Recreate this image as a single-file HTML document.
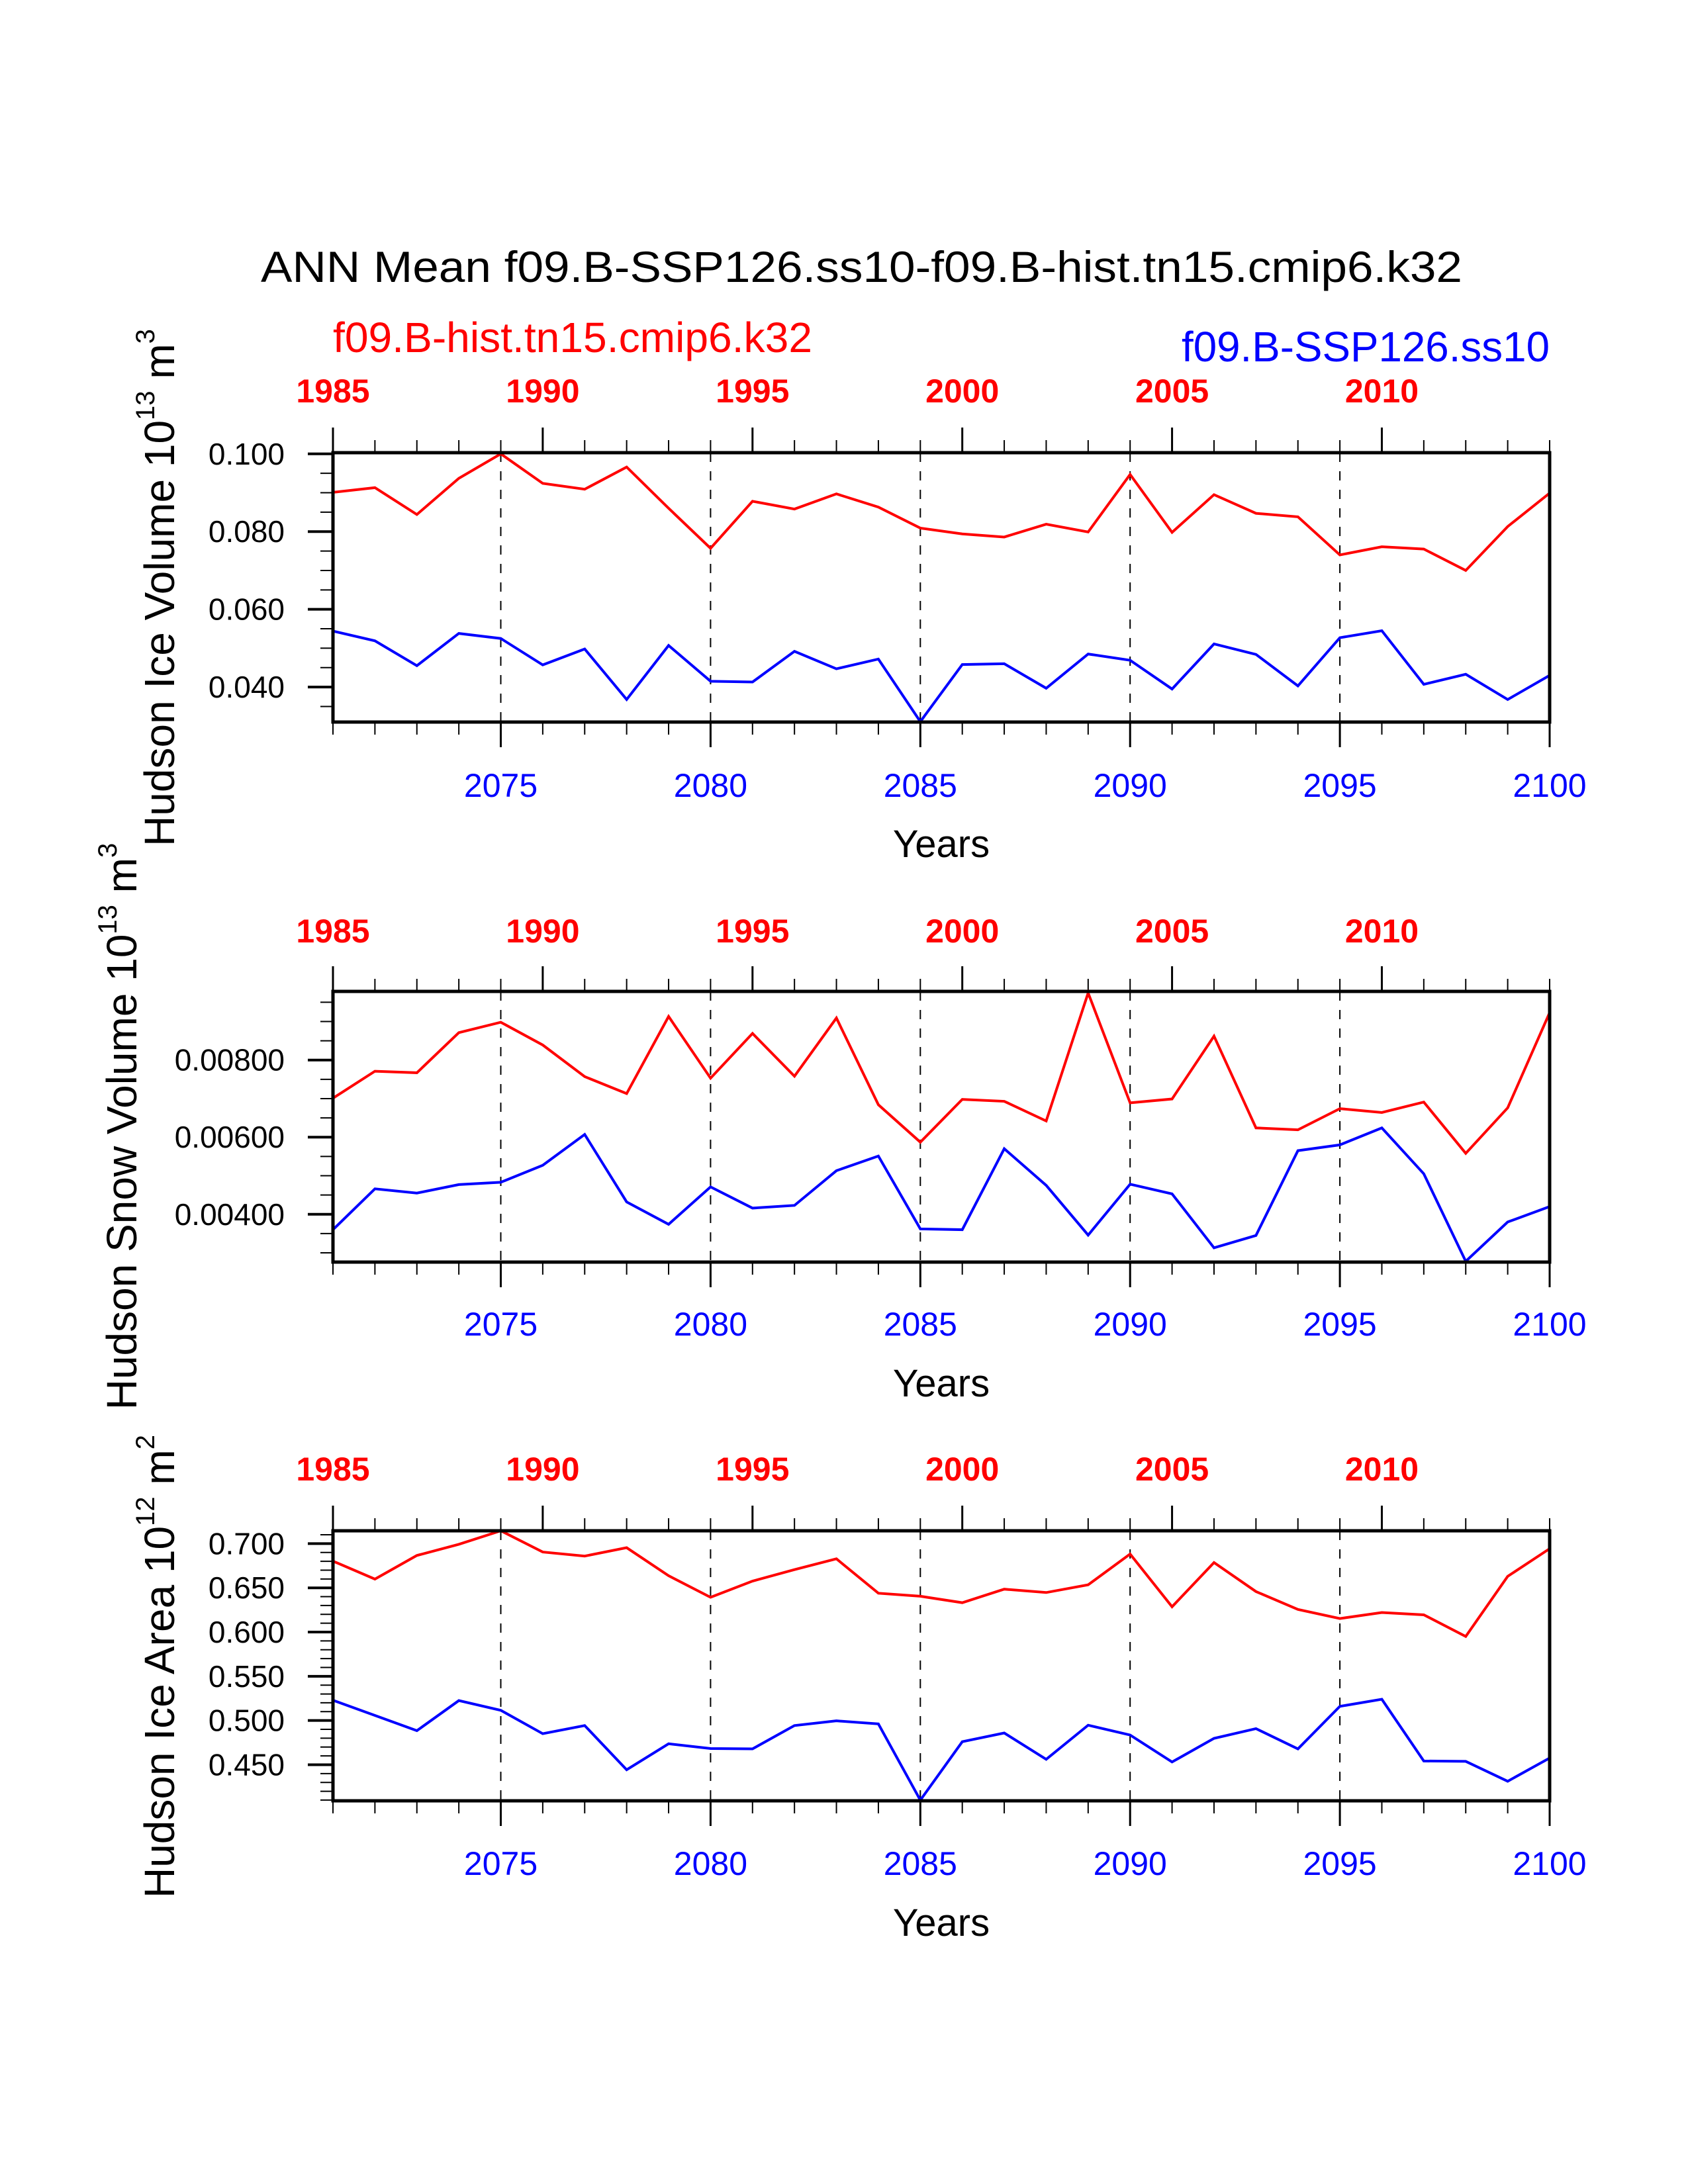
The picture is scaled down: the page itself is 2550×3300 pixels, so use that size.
<!DOCTYPE html>
<html><head><meta charset="utf-8"><style>
html,body{margin:0;padding:0;background:#fff}
svg{display:block;font-family:"Liberation Sans",Arial,sans-serif}
</style></head><body>
<svg id="chart" width="2550" height="3300" viewBox="0 0 2550 3300" xmlns="http://www.w3.org/2000/svg">
<rect width="2550" height="3300" fill="#fff"/>
<text x="394" y="426" font-size="66" textLength="1815" lengthAdjust="spacingAndGlyphs">ANN Mean f09.B-SSP126.ss10-f09.B-hist.tn15.cmip6.k32</text>
<text x="503" y="532" font-size="64" fill="#ff0000" textLength="724" lengthAdjust="spacingAndGlyphs">f09.B-hist.tn15.cmip6.k32</text>
<text x="1785" y="546" font-size="64" fill="#0000ff" textLength="556" lengthAdjust="spacingAndGlyphs">f09.B-SSP126.ss10</text>
</svg>
<script>
const years = [2071,2072,2073,2074,2075,2076,2077,2078,2079,2080,2081,2082,2083,2084,2085,2086,2087,2088,2089,2090,2091,2092,2093,2094,2095,2096,2097,2098,2099,2100];
const bottomTicks = [2075,2080,2085,2090,2095,2100];
const topTickLabels = ["1985","1990","1995","2000","2005","2010"];
const iceVolHist = [0.0901,0.0913,0.0844,0.0937,0.1000,0.0924,0.0909,0.0966,0.0860,0.0757,0.0878,0.0858,0.0897,0.0863,0.0809,0.0794,0.0786,0.0819,0.0799,0.0947,0.0798,0.0895,0.0847,0.0838,0.0740,0.0761,0.0755,0.0700,0.0813,0.0899];
const iceVolSsp = [0.0544,0.0519,0.0455,0.0538,0.0525,0.0457,0.0498,0.0368,0.0507,0.0415,0.0413,0.0492,0.0447,0.0472,0.0311,0.0458,0.0460,0.0397,0.0485,0.0469,0.0395,0.0511,0.0484,0.0403,0.0527,0.0545,0.0407,0.0433,0.0368,0.0430];
const snowVolHist = [0.00701,0.00771,0.00767,0.00871,0.00898,0.00839,0.00757,0.00713,0.00913,0.00753,0.00869,0.00758,0.00909,0.00684,0.00587,0.00698,0.00693,0.00642,0.00974,0.00689,0.00699,0.00862,0.00624,0.00619,0.00674,0.00664,0.00691,0.00558,0.00676,0.00923];
const snowVolSsp = [0.00360,0.00466,0.00455,0.00477,0.00483,0.00527,0.00607,0.00432,0.00374,0.00471,0.00416,0.00423,0.00513,0.00551,0.00362,0.00360,0.00570,0.00475,0.00346,0.00478,0.00453,0.00313,0.00345,0.00565,0.00580,0.00624,0.00505,0.00278,0.00380,0.00420];
const iceAreaHist = [0.6802,0.6599,0.6866,0.6992,0.7145,0.6905,0.6859,0.6954,0.6637,0.6393,0.6576,0.6706,0.6828,0.6439,0.6405,0.6332,0.6485,0.6447,0.6534,0.6882,0.6286,0.6786,0.6458,0.6256,0.6153,0.6221,0.6195,0.5950,0.6630,0.6943];
const iceAreaSsp = [0.5229,0.5057,0.4885,0.5225,0.5115,0.4851,0.4943,0.4443,0.4737,0.4683,0.4679,0.4943,0.4996,0.4962,0.4099,0.4760,0.4859,0.4561,0.4947,0.4836,0.4531,0.4798,0.4908,0.4679,0.5160,0.5240,0.4542,0.4538,0.4313,0.4576];
const iceVolTicks = ["0.040","0.060","0.080","0.100"];
const snowVolTicks = ["0.00400","0.00600","0.00800"];
const iceAreaTicks = ["0.450","0.500","0.550","0.600","0.650","0.700"];

const NS = "http://www.w3.org/2000/svg";
const svg = document.getElementById("chart");
function mk(tag, attrs, parent){
  const e = document.createElementNS(NS, tag);
  for (const k in attrs) e.setAttribute(k, attrs[k]);
  (parent||svg).appendChild(e);
  return e;
}
const X0 = 503, X1 = 2341;
function xs(yr){ return X0 + (yr - 2071) / (2100 - 2071) * (X1 - X0); }

function panel(cfg){
  const g = mk("g", {});
  
  
  const ys = v => cfg.top + (cfg.ymax - v) / (cfg.ymax - cfg.ymin) * (cfg.bot - cfg.top);
  // dashed verticals
  bottomTicks.slice(0,5).forEach(yr => {
    const l = mk("line", {x1:xs(yr), x2:xs(yr), y1:cfg.top, y2:cfg.bot, stroke:"#000","stroke-width":2,"stroke-dasharray":"14,14"}, g);
    
    
  });
  // x ticks
  years.forEach(yr => {
    const major = bottomTicks.includes(yr);
    const t = mk("line", {x1:xs(yr), x2:xs(yr), y1:cfg.bot, y2:cfg.bot + (major?38:19), stroke:"#000","stroke-width":major?3:2}, g);
    
    
    const topMajor = (yr - 2071) % 5 === 0;
    const t2 = mk("line", {x1:xs(yr), x2:xs(yr), y1:cfg.top, y2:cfg.top - (topMajor?38:19), stroke:"#000","stroke-width":topMajor?3:2}, g);
    
    
  });
  bottomTicks.forEach(yr => {
    const t = mk("text", {x:xs(yr), y:cfg.botLab, "font-size":50, fill:"#0000ff","text-anchor":"middle"}, g);
    t.textContent = String(yr);
    
    
  });
  topTickLabels.forEach((s, i) => {
    const t = mk("text", {x:xs(2071 + i*5), y:cfg.topLab, "font-size":50, "font-weight":"bold", fill:"#ff0000","text-anchor":"middle"}, g);
    t.textContent = s;
    
    
  });
  // y minor ticks
  for (let v = cfg.minorStart; v <= cfg.ymax + 1e-9; v += cfg.minor) {
    const y = ys(v);
    if (y < cfg.top - 1 || y > cfg.bot + 1) continue;
    const t = mk("line", {x1:X0-19, x2:X0, y1:y, y2:y, stroke:"#000","stroke-width":2}, g);
    
    
  }
  cfg.ticks.forEach(s => {
    const y = ys(parseFloat(s));
    const t = mk("line", {x1:X0-38, x2:X0, y1:y, y2:y, stroke:"#000","stroke-width":4}, g);
    
    
    const l = mk("text", {x:430, y:y+16, "font-size":46,"text-anchor":"end"}, g);
    l.textContent = s;
    
    
  });
  // series
  [[cfg.hist,"#ff0000","hist-line"],[cfg.ssp,"#0000ff","ssp126-line"]].forEach(([arr,col,nm]) => {
    const p = mk("polyline", {points: arr.map((v,i)=>xs(years[i])+","+ys(v)).join(" "), fill:"none", stroke:col, "stroke-width":4, "stroke-linejoin":"miter"}, g);
    
    
  });
  const b = mk("rect", {x:X0, y:cfg.top, width:X1-X0, height:cfg.bot-cfg.top, fill:"none", stroke:"#000","stroke-width":5}, g);
  
  
  const yl = mk("text", {x:(X0+X1)/2, y:cfg.yearsY, "font-size":58,"text-anchor":"middle"}, g);
  yl.textContent = "Years";
  
  
  const at = mk("text", {transform:`translate(${cfg.titleX},${cfg.titleY}) rotate(-90)`, "font-size":64, "text-anchor":"middle"}, g);
  at.innerHTML = cfg.title + ' 10<tspan font-size="40" dy="-30">' + cfg.exp + '</tspan><tspan dy="30"> m</tspan><tspan font-size="40" dy="-30">' + cfg.unitExp + '</tspan>';
  
  
}

panel({name:"ice-volume-panel", top:684, bot:1091, ymin:0.031, ymax:0.1003, minor:0.005, minorStart:0.035, ticks:iceVolTicks, hist:iceVolHist, ssp:iceVolSsp, topLab:608, botLab:1204, yearsY:1295, title:"Hudson Ice Volume", exp:"13", unitExp:"3", titleX:263, titleY:888});
panel({name:"snow-volume-panel", top:1498, bot:1907, ymin:0.00276, ymax:0.00978, minor:0.0005, minorStart:0.003, ticks:snowVolTicks, hist:snowVolHist, ssp:snowVolSsp, topLab:1424, botLab:2018, yearsY:2110, title:"Hudson Snow Volume", exp:"13", unitExp:"3", titleX:206, titleY:1702});
panel({name:"ice-area-panel", top:2313, bot:2721, ymin:0.4092, ymax:0.7145, minor:0.01, minorStart:0.41, ticks:iceAreaTicks, hist:iceAreaHist, ssp:iceAreaSsp, topLab:2237, botLab:2833, yearsY:2925, title:"Hudson Ice Area", exp:"12", unitExp:"2", titleX:263, titleY:2518});
</script>
</body></html>
